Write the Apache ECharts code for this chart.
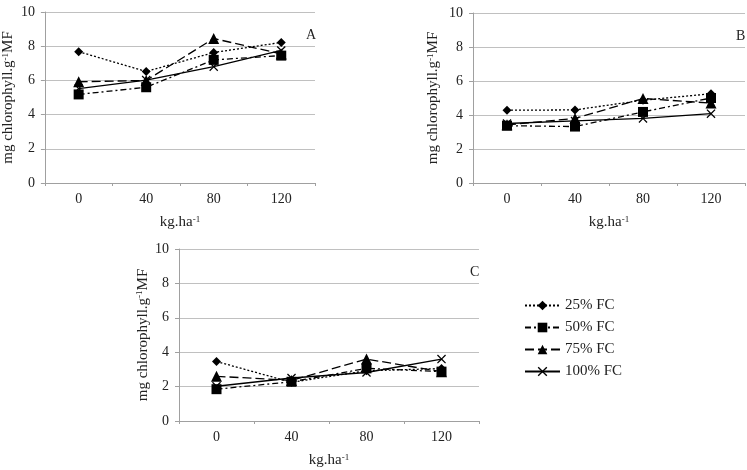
<!DOCTYPE html>
<html><head><meta charset="utf-8">
<script src="https://cdn.jsdelivr.net/npm/echarts@6/dist/echarts.min.js"></script>
<style>html,body{margin:0;padding:0;background:#fff}#c{width:747px;height:470px}</style>
</head><body><div id="c"></div>
<script>
const categories = ['0', '40', '80', '120'];
const seriesNames = ['25% FC', '50% FC', '75% FC', '100% FC'];
const yTicks = [0, 2, 4, 6, 8, 10];
// Panel A
const A_fc25 = [7.68, 6.52, 7.63, 8.22];
const A_fc50 = [5.18, 5.6, 7.2, 7.45];
const A_fc75 = [5.92, 6.0, 8.45, 7.55];
const A_fc100 = [5.52, 6.02, 6.8, 7.75];
// Panel B
const B_fc25 = [4.28, 4.3, 4.87, 5.25];
const B_fc50 = [3.37, 3.32, 4.18, 5.0];
const B_fc75 = [3.42, 3.8, 4.97, 4.7];
const B_fc100 = [3.5, 3.65, 3.8, 4.08];
// Panel C
const C_fc25 = [3.46, 2.25, 2.92, 3.05];
const C_fc50 = [1.85, 2.28, 3.06, 2.87];
const C_fc75 = [2.6, 2.36, 3.6, 2.87];
const C_fc100 = [2.02, 2.5, 2.82, 3.6];
const panels = [[A_fc25, A_fc50, A_fc75, A_fc100], [B_fc25, B_fc50, B_fc75, B_fc100], [C_fc25, C_fc50, C_fc75, C_fc100]];
const panelLabels = ['A', 'B', 'C'];

const FONT = 'Liberation Serif';
const styles = [
  {symbol: 'diamond', size: 9, dash: [2, 2]},
  {symbol: 'rect', size: 10, dash: [6, 3, 2, 3]},
  {symbol: 'triangle', size: 11, dash: [9, 4]},
  {symbol: 'path://M0,1 L1,0 L5,4 L9,0 L10,1 L6,5 L10,9 L9,10 L5,6 L1,10 L0,9 L4,5 Z', size: 9, dash: 'solid'}
];
const grids = [
  {left: 43, top: 12, width: 272, height: 171},
  {left: 473, top: 13, width: 272, height: 170},
  {left: 179, top: 249, width: 300, height: 174}
];
const yNameGaps = [25, 32, 25];
const rich = {sup: {fontSize: 9, verticalAlign: 'top', lineHeight: 9, fontFamily: FONT, color: '#222', padding: [0, 0, 7, 0]}};
const xAxis = [], yAxis = [], series = [], title = [];
grids.forEach((g, i) => {
  xAxis.push({
    type: 'category', gridIndex: i, data: categories, boundaryGap: true,
    axisLine: {lineStyle: {color: '#a0a0a0'}},
    axisTick: {show: true, length: 3, lineStyle: {color: '#a0a0a0'}},
    axisLabel: {fontFamily: FONT, fontSize: 14, color: '#222', margin: 9},
    name: 'kg.ha{sup|-1}', nameLocation: 'middle', nameGap: 32,
    nameTextStyle: {fontFamily: FONT, fontSize: 15, color: '#222', rich: rich}
  });
  yAxis.push({
    type: 'value', gridIndex: i, min: 0, max: 10, interval: 2,
    axisLine: {show: true, lineStyle: {color: '#a0a0a0'}},
    axisTick: {show: true, length: 4, lineStyle: {color: '#a0a0a0'}},
    splitLine: {lineStyle: {color: '#c0c0c0'}},
    axisLabel: {fontFamily: FONT, fontSize: 14, color: '#222', margin: 10},
    name: 'mg chlorophyll.g{sup|-1}MF', nameLocation: 'middle', nameGap: yNameGaps[i], nameRotate: 90,
    nameTextStyle: {fontFamily: FONT, fontSize: 15, color: '#222', rich: rich}
  });
  panels[i].forEach((vals, k) => {
    series.push({
      name: seriesNames[k], type: 'line', xAxisIndex: i, yAxisIndex: i, data: vals,
      symbol: styles[k].symbol, symbolSize: styles[k].size, showSymbol: true,
      lineStyle: {color: '#000', width: 1.3, type: styles[k].dash},
      itemStyle: {color: '#000'}, animation: false, z: 10 - k
    });
  });
  title.push({text: panelLabels[i], left: g.left + g.width - 14, top: g.top + 11,
    textStyle: {fontFamily: FONT, fontSize: 14, fontWeight: 'normal', color: '#222'}});
});
const chart = echarts.init(document.getElementById('c'), null, {renderer: 'canvas'});
chart.setOption({
  animation: false,
  title: title,
  grid: grids,
  xAxis: xAxis, yAxis: yAxis, series: series,
  legend: {
    data: seriesNames, orient: 'vertical', left: 519, top: 293,
    itemWidth: 35, itemHeight: 12, itemGap: 7,
    textStyle: {fontFamily: FONT, fontSize: 15, color: '#222'},
    selectedMode: false
  }
});
</script></body></html>
